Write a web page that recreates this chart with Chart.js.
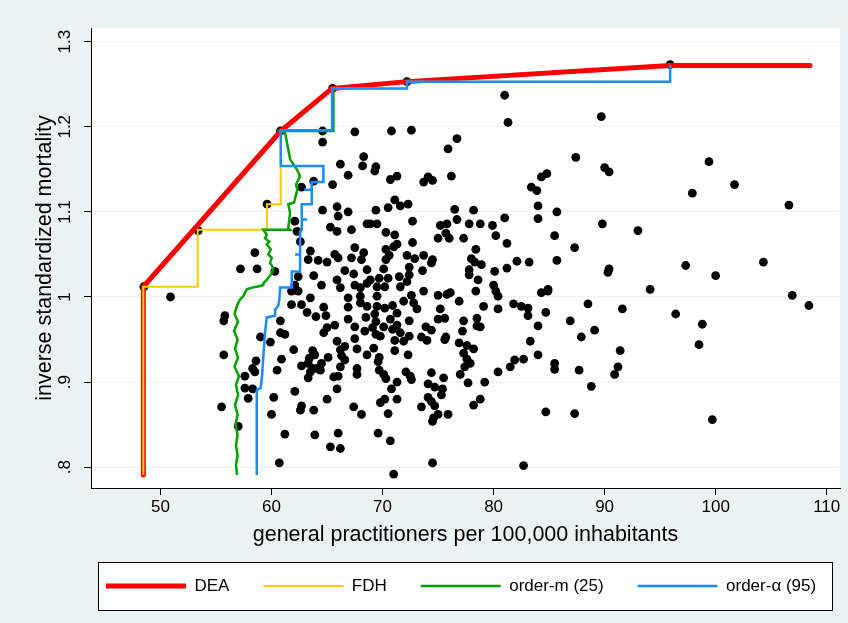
<!DOCTYPE html>
<html>
<head>
<meta charset="utf-8">
<title>DEA / FDH / order-m / order-alpha frontiers</title>
<script src="https://cdn.jsdelivr.net/npm/chart.js@4.4.1/dist/chart.umd.min.js"></script>
<style>
  html, body { margin: 0; padding: 0; background: #eaf2f3; }
  #wrap { width: 848px; height: 623px; }
</style>
</head>
<body>
<div id="wrap"><canvas id="chart" width="848" height="623"></canvas></div>
<script>
// axis ticks
const gpTicks = [50, 60, 70, 80, 90, 100, 110];
const mortTicks = [0.8, 0.9, 1.0, 1.1, 1.2, 1.3];
const mortTickLabels = ['.8', '.9', '1', '1.1', '1.2', '1.3'];

// observed units: general practitioners per 100,000 (x) and inverse standardized mortality (y)
const gpRate = [
  48.5, 50.9, 53.4, 60.8, 65.5, 72.2, 95.9,
  61.8, 62.7, 63.2, 64.7, 64.9, 66.9, 68.0, 68.6, 55.8, 55.7,
  60.8, 64.0, 65.7, 65.0, 64.7, 66.9, 67.5, 68.5, 68.4, 60.8,
  61.2, 59.0, 59.9, 65.9, 66.2, 66.6, 66.3, 66.6, 67.5, 67.7,
  68.6, 62.0, 63.7, 63.9, 63.4, 63.3, 65.1, 64.5, 60.9, 55.7,
  58.6, 58.3, 58.5, 60.5, 62.7, 63.7, 64.1, 64.4, 63.5, 66.2,
  67.7, 66.0, 65.6, 67.7, 57.6, 63.3, 58.3, 57.6, 57.9, 60.2,
  62.1, 65.9, 65.0, 55.5, 62.7, 62.6, 63.8, 67.4, 68.1, 60.0,
  57.0, 60.7, 61.2,
  66.9, 65.5, 63.8, 62.7, 59.6, 64.6, 65.9, 66.0, 66.9, 68.6,
  62.1, 65.3, 65.9, 67.2, 62.3, 62.6, 63.5, 63.3, 64.2, 65.0,
  65.7, 66.0, 67.5, 67.2, 68.3, 68.1, 58.5, 57.2, 58.7, 60.3,
  62.4, 63.8, 64.5, 65.9, 66.6, 67.4, 66.2, 67.5, 68.0, 68.6,
  68.6, 62.1, 62.4, 61.8, 66.9, 68.0, 63.5,
  69.3, 70.7, 71.3, 73.7, 74.1, 74.5, 76.2, 71.1, 71.6, 72.3,
  70.5, 69.4, 76.5, 78.2, 81.0, 68.9, 69.5, 72.7, 75.2, 75.8,
  76.7, 77.8, 78.8, 79.9, 70.3, 71.1, 75.7, 75.0, 76.0, 77.3,
  80.2, 72.7, 81.2, 71.3, 71.0, 70.3, 78.4, 73.7, 72.2, 72.9,
  70.6, 70.3, 74.5, 74.4, 78.0, 78.3, 78.9, 82.1, 81.2, 80.1,
  72.4, 73.6, 70.1, 77.8, 77.8, 71.5, 72.4, 69.7, 70.5, 72.2,
  68.9, 70.2, 69.5, 71.6, 78.6, 80.0, 80.2, 73.7, 75.0, 76.1,
  75.8, 78.4, 72.6, 69.5, 80.4,
  69.5, 70.2, 70.9, 71.9, 72.8, 73.1, 75.2, 76.9, 79.1, 80.4,
  81.8, 69.3, 71.3, 70.7, 69.4, 70.1, 69.1, 72.4, 71.3, 70.9,
  75.0, 75.6, 77.3, 78.5, 78.5, 78.8, 73.9, 74.4, 77.2, 69.4,
  69.8, 71.6, 72.4, 71.1, 71.9, 73.5, 74.0, 75.7, 75.6, 76.9,
  77.6, 78.2, 69.2, 71.1, 72.3, 77.3, 77.6, 77.9, 77.4, 69.7,
  69.6, 81.9, 81.5, 80.4, 69.7, 70.1, 70.3, 72.1, 72.5, 72.6,
  74.4, 75.5, 77.0, 77.7, 79.2, 71.3, 70.8, 74.1, 74.7, 75.4,
  75.3, 71.3, 70.2, 69.8, 74.1, 74.4, 74.7, 73.5, 78.8, 78.2,
  70.5, 75.0, 75.9, 74.6, 74.5,
  63.9, 66.0, 65.3, 66.2, 69.6, 70.7, 74.5, 71.0, 82.7, 84.3,
  84.9, 82.5, 83.1, 83.1, 84.7, 88.5, 86.9, 89.1, 84.0, 87.9,
  83.3, 84.0, 82.7, 85.5, 85.5, 87.7, 88.8, 84.7, 87.3,
  64.6, 64.6, 67.5, 70.8, 72.6, 81.0, 81.3, 76.7, 75.9, 68.3,
  66.2, 68.2, 69.4, 87.4, 84.8, 84.3, 83.4, 83.9, 84.0, 85.7,
  84.0, 85.5, 87.3, 85.7, 83.2, 84.9,
  89.7, 90.0, 90.4, 99.4, 101.7, 97.9, 106.6, 89.8, 93.0, 90.4,
  90.3, 97.3, 100.0, 104.3, 94.1, 91.6, 96.4, 98.8, 106.9, 108.4,
  98.5, 91.4, 91.2, 90.9, 99.7
];
const invMort = [
  1.012, 1.000, 1.078, 1.195, 1.245, 1.253, 1.273,
  0.991, 0.991, 0.982, 0.988, 0.978, 0.988, 0.993, 0.989, 0.978, 0.972,
  0.972, 0.977, 0.967, 0.964, 0.958, 0.974, 0.965, 0.976, 0.960, 0.958,
  0.956, 0.953, 0.947, 0.948, 0.938, 0.942, 0.931, 0.926, 0.951, 0.939,
  0.932, 0.938, 0.937, 0.932, 0.928, 0.922, 0.929, 0.922, 0.927, 0.932,
  0.925, 0.916, 0.912, 0.914, 0.919, 0.916, 0.916, 0.914, 0.912, 0.918,
  0.916, 0.907, 0.906, 0.909, 0.907, 0.905, 0.892, 0.893, 0.881, 0.882,
  0.889, 0.892, 0.880, 0.871, 0.872, 0.867, 0.867, 0.871, 0.862, 0.862,
  0.848, 0.805, 0.839,
  1.143, 1.132, 1.136, 1.129, 1.109, 1.102, 1.106, 1.095, 1.100, 1.086,
  1.089, 1.082, 1.077, 1.079, 1.077, 1.065, 1.054, 1.044, 1.043, 1.041,
  1.050, 1.046, 1.058, 1.046, 1.052, 1.044, 1.052, 1.033, 1.033, 1.030,
  1.024, 1.025, 1.014, 1.020, 1.031, 1.027, 1.011, 1.014, 1.011, 1.016,
  1.032, 1.014, 1.007, 1.007, 0.999, 1.001, 0.999,
  1.148, 1.138, 1.142, 1.135, 1.141, 1.137, 1.142, 1.114, 1.107, 1.109,
  1.105, 1.102, 1.103, 1.102, 1.093, 1.086, 1.086, 1.089, 1.084, 1.086,
  1.091, 1.086, 1.086, 1.084, 1.076, 1.073, 1.075, 1.069, 1.069, 1.069,
  1.072, 1.064, 1.063, 1.062, 1.059, 1.056, 1.056, 1.049, 1.049, 1.045,
  1.049, 1.044, 1.044, 1.040, 1.045, 1.041, 1.038, 1.042, 1.034, 1.030,
  1.035, 1.031, 1.033, 1.032, 1.026, 1.024, 1.026, 1.022, 1.022, 1.018,
  1.020, 1.012, 1.012, 1.012, 1.020, 1.014, 1.007, 1.007, 1.002, 1.005,
  1.003, 1.007, 1.002, 1.001, 1.001,
  0.989, 0.987, 0.990, 0.995, 0.993, 0.986, 0.986, 0.995, 0.989, 0.986,
  0.992, 0.980, 0.981, 0.974, 0.971, 0.965, 0.964, 0.972, 0.967, 0.962,
  0.974, 0.975, 0.972, 0.975, 0.966, 0.965, 0.965, 0.961, 0.960, 0.956,
  0.954, 0.958, 0.954, 0.949, 0.948, 0.953, 0.949, 0.953, 0.950, 0.946,
  0.943, 0.939, 0.940, 0.937, 0.932, 0.934, 0.927, 0.922, 0.918, 0.929,
  0.924, 0.926, 0.918, 0.912, 0.914, 0.909, 0.904, 0.912, 0.907, 0.903,
  0.911, 0.905, 0.909, 0.899, 0.900, 0.900, 0.892, 0.898, 0.894, 0.892,
  0.885, 0.880, 0.880, 0.876, 0.882, 0.877, 0.872, 0.871, 0.880, 0.873,
  0.863, 0.862, 0.862, 0.858, 0.854,
  0.838, 0.840, 0.824, 0.822, 0.840, 0.831, 0.805, 0.792, 0.802, 1.005,
  1.007, 0.989, 0.987, 0.978, 0.982, 0.992, 0.972, 0.961, 0.966, 0.953,
  0.948, 0.932, 0.927, 0.922, 0.915, 0.914, 0.895, 0.865, 0.863,
  1.195, 1.182, 1.194, 1.195, 1.196, 1.237, 1.205, 1.186, 1.174, 1.165,
  1.156, 1.154, 1.153, 1.164, 1.145, 1.141, 1.129, 1.125, 1.107, 1.100,
  1.092, 1.072, 1.058, 1.043, 1.041, 1.009,
  1.212, 1.152, 1.147, 1.159, 1.132, 1.122, 1.108, 1.086, 1.078, 1.033,
  1.029, 1.037, 1.025, 1.041, 1.009, 0.986, 0.980, 0.968, 1.002, 0.990,
  0.944, 0.937, 0.918, 0.909, 0.856
];

// DEA frontier (convex hull vertices)
const deaX = [48.45, 48.45, 60.83, 65.45, 72.2, 95.9, 108.5];
const deaY = [0.791, 1.012, 1.195, 1.245, 1.253, 1.272, 1.272];

// FDH frontier (staircase through dominating units)
const fdhX = [48.45, 48.45, 53.35, 59.6, 60.83, 65.45, 72.2, 95.9];
const fdhY = [0.791, 1.012, 1.079, 1.109, 1.195, 1.245, 1.253, 1.272];

// order-m frontier (m = 25)
const ordMX = [
  56.89, 56.80, 56.94, 56.80, 56.94, 56.76, 56.94, 56.71, 56.98, 56.80,
  57.07, 56.67, 56.98, 56.71, 56.94, 56.62, 56.98, 56.67, 56.89, 57.16,
  57.46, 57.77, 58.22, 58.69, 59.26, 59.26, 59.57, 60.02, 60.16, 59.86,
  60.02, 59.71, 59.93, 59.57, 59.80, 59.41, 59.57, 59.26, 61.67, 61.51,
  61.67, 61.51, 62.03, 62.32, 62.21, 62.57, 62.27, 61.67, 61.51, 61.22,
  60.83, 65.57, 65.57
];
const ordMY = [
  0.791, 0.803, 0.814, 0.826, 0.838, 0.850, 0.862, 0.873, 0.885, 0.897,
  0.907, 0.918, 0.929, 0.939, 0.950, 0.960, 0.971, 0.980, 0.990, 0.997,
  1.001, 1.009, 1.011, 1.012, 1.014, 1.016, 1.020, 1.028, 1.034, 1.040,
  1.046, 1.050, 1.056, 1.062, 1.065, 1.069, 1.073, 1.079, 1.079, 1.081,
  1.099, 1.109, 1.111, 1.126, 1.132, 1.142, 1.150, 1.162, 1.173, 1.193,
  1.195, 1.195, 1.246
];

// order-alpha frontier (alpha = 95)
const ordAX = [
  58.67, 58.67, 59.01, 59.14, 59.26, 59.41, 59.57, 60.32, 60.32, 60.61,
  60.70, 60.77, 61.82, 61.82, 62.57, 62.57, 62.12, 62.57, 62.57, 62.72,
  62.72, 63.20, 62.72, 62.72, 63.62, 63.62, 62.93, 63.62, 63.62, 64.67,
  64.67, 60.83, 60.83, 65.45, 65.45, 72.2, 72.2, 95.9, 95.9
];
const ordAY = [
  0.791, 0.891, 0.893, 0.906, 0.930, 0.958, 0.976, 0.978, 0.985, 0.990,
  0.997, 1.011, 1.011, 1.030, 1.030, 1.050, 1.050, 1.050, 1.077, 1.079,
  1.091, 1.091, 1.091, 1.109, 1.109, 1.126, 1.126, 1.126, 1.135, 1.135,
  1.154, 1.154, 1.196, 1.196, 1.245, 1.245, 1.253, 1.253, 1.272
];

const toPoints = (xs, ys) => xs.map((x, i) => ({ x: x, y: ys[i] }));

const FONT = "'Liberation Sans', Arial, sans-serif";
Chart.defaults.font.family = FONT;
Chart.defaults.color = '#000';

// light blue graph region, white plot region and a framed legend
const stataFrame = {
    id: 'stataFrame',
    beforeDraw(chart) {
        const { ctx, chartArea: a, legend } = chart;
        ctx.save();
        ctx.fillStyle = '#eaf2f3';
        ctx.fillRect(0, 0, chart.width, chart.height);
        ctx.fillStyle = '#ffffff';
        ctx.fillRect(a.left, a.top, a.right - a.left, a.bottom - a.top);
        if (legend) {
            const lo = legend.options.labels;
            const cy = legend.top + lo.padding + lo.font.size / 2;
            const x0 = Math.round(legend.left + 7) + 0.5;
            const x1 = Math.round(legend.right - 8) + 0.5;
            const y0 = Math.round(cy - 24) + 0.5;
            const y1 = Math.round(cy + 24) + 0.5;
            ctx.fillRect(x0, y0, x1 - x0, y1 - y0);
            ctx.strokeStyle = '#000';
            ctx.lineWidth = 1;
            ctx.strokeRect(x0, y0, x1 - x0, y1 - y0);
        }
        ctx.restore();
    }
};

const lineSet = (label, pts, color, width, order, extra) => Object.assign({
    label: label,
    data: pts,
    showLine: true,
    borderColor: color,
    backgroundColor: color,
    borderWidth: width,
    pointRadius: 0,
    pointHoverRadius: 0,
    tension: 0,
    fill: false,
    order: order
}, extra || {});

// legend entries are spaced like Stata's: wide gap after each label
const legendGap = '    ';

new Chart(document.getElementById('chart'), {
    type: 'scatter',
    data: {
        datasets: [
            lineSet('DEA', toPoints(deaX, deaY), '#ff0000', 5, 4, { borderCapStyle: 'round', borderJoinStyle: 'round' }),
            lineSet('FDH', toPoints(fdhX, fdhY), '#ffcc00', 2, 3, { stepped: 'before' }),
            lineSet('order-m (25)', toPoints(ordMX, ordMY), '#00a000', 2.5, 2),
            lineSet('order-\u03B1 (95)', toPoints(ordAX, ordAY), '#1a8cff', 2.5, 1),
            {
                label: 'units',
                data: toPoints(gpRate, invMort),
                pointRadius: 4.4,
                pointBackgroundColor: '#000',
                pointBorderWidth: 0,
                pointHoverRadius: 4.4,
                showLine: false,
                order: 5
            }
        ]
    },
    options: {
        responsive: false,
        animation: false,
        layout: { padding: { left: 0, right: 8, top: 28, bottom: 18.5 } },
        scales: {
            x: {
                type: 'linear',
                min: 43.74,
                max: 111.2,
                afterBuildTicks: s => { s.ticks = gpTicks.map(v => ({ value: v })); },
                afterFit: s => { s.height = 74.5; },
                border: { display: true, color: '#000', width: 1 },
                grid: { drawOnChartArea: false, drawTicks: true, tickLength: 7, tickColor: '#000' },
                ticks: { font: { size: 17 }, padding: 2, maxRotation: 0, autoSkip: false, callback: v => String(v) },
                title: {
                    display: true,
                    text: 'general practitioners per 100,000 inhabitants',
                    font: { size: 21.5 },
                    padding: { top: 0, bottom: 14.5 }
                }
            },
            y: {
                type: 'linear',
                min: 0.7756,
                max: 1.316,
                afterBuildTicks: s => { s.ticks = mortTicks.map(v => ({ value: v })); },
                afterFit: s => { s.width = 91; },
                border: { display: true, color: '#000', width: 1 },
                grid: { color: '#eaf2f3', lineWidth: 1, drawTicks: true, tickLength: 7, tickColor: '#000' },
                ticks: {
                    font: { size: 17 },
                    padding: 7,
                    minRotation: 90,
                    maxRotation: 90,
                    crossAlign: 'center',
                    autoSkip: false,
                    callback: (v, i) => mortTickLabels[i]
                },
                title: {
                    display: true,
                    text: 'inverse standardized mortality',
                    font: { size: 21.5 },
                    padding: { top: 32, bottom: 0 }
                }
            }
        },
        plugins: {
            legend: {
                position: 'bottom',
                fullSize: false,
                align: 'start',
                labels: {
                    usePointStyle: true,
                    pointStyle: 'line',
                    pointStyleWidth: 80,
                    padding: 15,
                    font: { size: 17 },
                    color: '#000',
                    generateLabels: chart => Chart.defaults.plugins.legend.labels.generateLabels(chart)
                        .map(item => Object.assign(item, { text: item.datasetIndex < 3 ? item.text + legendGap : item.text })),
                    filter: item => item.datasetIndex < 4,
                    sort: (a, b) => a.datasetIndex - b.datasetIndex
                }
            },
            tooltip: { enabled: false }
        }
    },
    plugins: [stataFrame]
});
</script>
</body>
</html>
